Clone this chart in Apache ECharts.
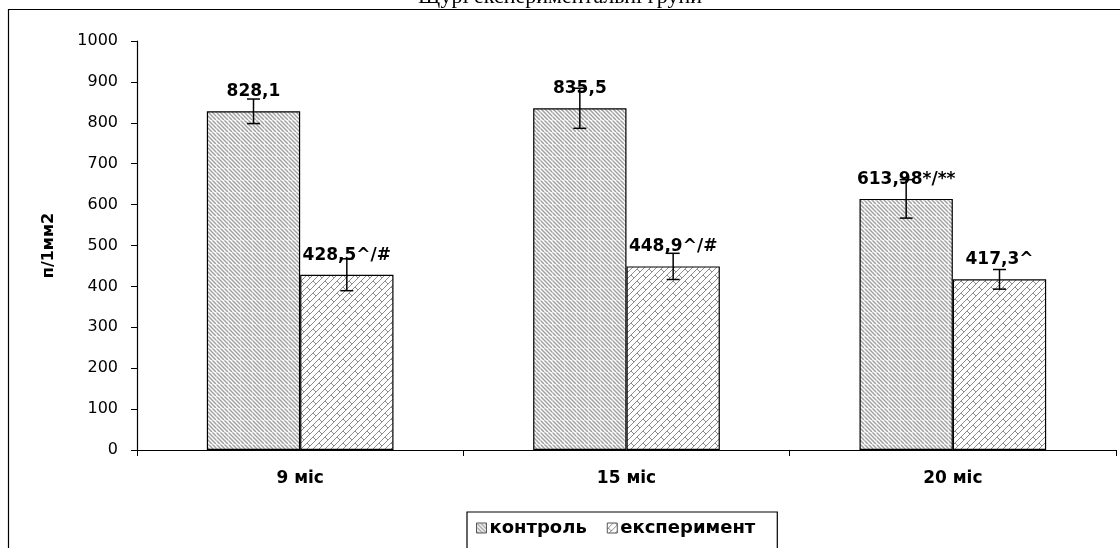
<!DOCTYPE html>
<html>
<head>
<meta charset="utf-8">
<script src="https://cdn.jsdelivr.net/npm/echarts@6/dist/echarts.min.js"></script>
<style>html,body{margin:0;padding:0;background:#fff}#c{width:1120px;height:548px}</style>
</head>
<body>
<div id="c"></div>
<script>
const categories = ['9 міс', '15 міс', '20 міс'];
const seriesNames = ['контроль', 'експеримент'];
const controlValues = [828.1, 835.5, 613.98];
const experimentValues = [428.5, 448.9, 417.3];
const controlErrors = [30, 49, 47];
const experimentErrors = [39, 32, 24];
const controlLabels = ['828,1', '835,5', '613,98*/**'];
const experimentLabels = ['428,5^/#', '448,9^/#', '417,3^'];
const yTicks = { min: 0, max: 1000, interval: 100 };
const titleText = 'Щурі експериментальні групи';
const yName = 'п/1мм2';

function hatchPattern() {
  const c = document.createElement('canvas');
  c.width = 12; c.height = 12;
  const x = c.getContext('2d');
  x.fillStyle = '#fff'; x.fillRect(0, 0, 12, 12);
  x.strokeStyle = '#a0a0a0'; x.lineWidth = 1.5;
  for (let k = -12; k <= 24; k += 4) {
    x.beginPath(); x.moveTo(k, 0); x.lineTo(k + 12, 12); x.stroke();
  }
  x.strokeStyle = 'rgba(255,255,255,0.3)'; x.lineWidth = 1;
  x.beginPath(); x.moveTo(0, 0.5); x.lineTo(12, 0.5); x.stroke();
  x.beginPath(); x.moveTo(0.5, 0); x.lineTo(0.5, 12); x.stroke();
  return c;
}
function shinglePattern() {
  const c = document.createElement('canvas');
  c.width = 12; c.height = 12;
  const x = c.getContext('2d');
  x.fillStyle = '#fff'; x.fillRect(0, 0, 12, 12);
  x.strokeStyle = '#8c8c8c'; x.lineWidth = 1;
  for (let k = -12; k <= 24; k += 6) {
    x.beginPath(); x.moveTo(k, 12); x.lineTo(k + 12, 0); x.stroke();
  }
  x.beginPath(); x.moveTo(1, 5); x.lineTo(4, 8); x.stroke();
  x.beginPath(); x.moveTo(7, 11); x.lineTo(10, 14); x.stroke();
  x.beginPath(); x.moveTo(7, -1); x.lineTo(10, 2); x.stroke();
  return c;
}
const fills = [
  { image: hatchPattern(), repeat: 'repeat' },
  { image: shinglePattern(), repeat: 'repeat' }
];

const chart = echarts.init(document.getElementById('c'));
const FONT = 'DejaVu Sans, Verdana, sans-serif';
const labelFont = { fontFamily: FONT, fontWeight: 'bold', fontSize: 17, color: '#000' };

function barSeries(idx, values, labels) {
  return {
    name: seriesNames[idx],
    type: 'bar',
    data: values,
    barWidth: '28.6%',
    barGap: '0%',
    itemStyle: { color: fills[idx], borderColor: '#000', borderWidth: 1.2 },
    label: {
      show: true, position: 'top', distance: 11,
      formatter: p => labels[p.dataIndex],
      ...labelFont
    },
    z: 2
  };
}
function errorSeries(idx, values, errs) {
  return {
    type: 'custom',
    name: seriesNames[idx] + '_err',
    data: values.map((v, i) => [i, v - errs[i], v + errs[i]]),
    renderItem: function (params, api) {
      const ci = api.value(0);
      const lo = api.coord([ci, api.value(1)]);
      const hi = api.coord([ci, api.value(2)]);
      const band = api.size([1, 0])[0];
      const bw = band * 0.286;
      const xc = lo[0] + (idx === 0 ? -bw / 2 : bw / 2);
      const cap = 6.5;
      const st = { stroke: '#000', lineWidth: 1.5 };
      return {
        type: 'group',
        children: [
          { type: 'line', shape: { x1: xc, y1: hi[1], x2: xc, y2: lo[1] }, style: st },
          { type: 'line', shape: { x1: xc - cap, y1: hi[1], x2: xc + cap, y2: hi[1] }, style: st },
          { type: 'line', shape: { x1: xc - cap, y1: lo[1], x2: xc + cap, y2: lo[1] }, style: st }
        ]
      };
    },
    z: 5,
    silent: true
  };
}

chart.setOption({
  animation: false,
  title: {
    text: titleText, left: 'center', top: -19,
    textStyle: { fontFamily: 'Liberation Serif, Times New Roman', fontWeight: 'normal', fontSize: 22, color: '#000' }
  },
  graphic: [{
    type: 'rect', shape: { x: 8.5, y: 9.5, width: 1200, height: 700 },
    style: { fill: 'none', stroke: '#000', lineWidth: 1.2 }, silent: true, z: -1
  }],
  grid: { left: 137, right: 4, top: 41, bottom: 98 },
  legend: {
    data: seriesNames,
    left: 467, top: 512,
    padding: [7, 22, 20, 9],
    borderColor: '#000', borderWidth: 1.2,
    itemWidth: 10, itemHeight: 10, itemGap: 20,
    icon: 'rect',
    itemStyle: { borderColor: '#555', borderWidth: 1 },
    textStyle: { ...labelFont, fontSize: 18, padding: [0, 0, 0, -2] }
  },
  xAxis: {
    type: 'category', data: categories,
    axisLine: { lineStyle: { color: '#000', width: 1.2 } },
    axisTick: { show: true, length: 6, lineStyle: { color: '#000' } },
    axisLabel: { ...labelFont, fontSize: 17, margin: 20 }
  },
  yAxis: {
    type: 'value', min: yTicks.min, max: yTicks.max, interval: yTicks.interval,
    name: yName, nameLocation: 'middle', nameGap: 80, nameRotate: 90,
    nameTextStyle: { ...labelFont, fontSize: 16 },
    axisLine: { show: true, lineStyle: { color: '#000', width: 1.2 } },
    axisTick: { show: true, length: 6, lineStyle: { color: '#000' } },
    splitLine: { show: false },
    axisLabel: { fontFamily: FONT, fontSize: 16, color: '#000', margin: 19, formatter: v => String(v) }
  },
  series: [
    barSeries(0, controlValues, controlLabels),
    barSeries(1, experimentValues, experimentLabels),
    errorSeries(0, controlValues, controlErrors),
    errorSeries(1, experimentValues, experimentErrors)
  ]
});
</script>
</body>
</html>
